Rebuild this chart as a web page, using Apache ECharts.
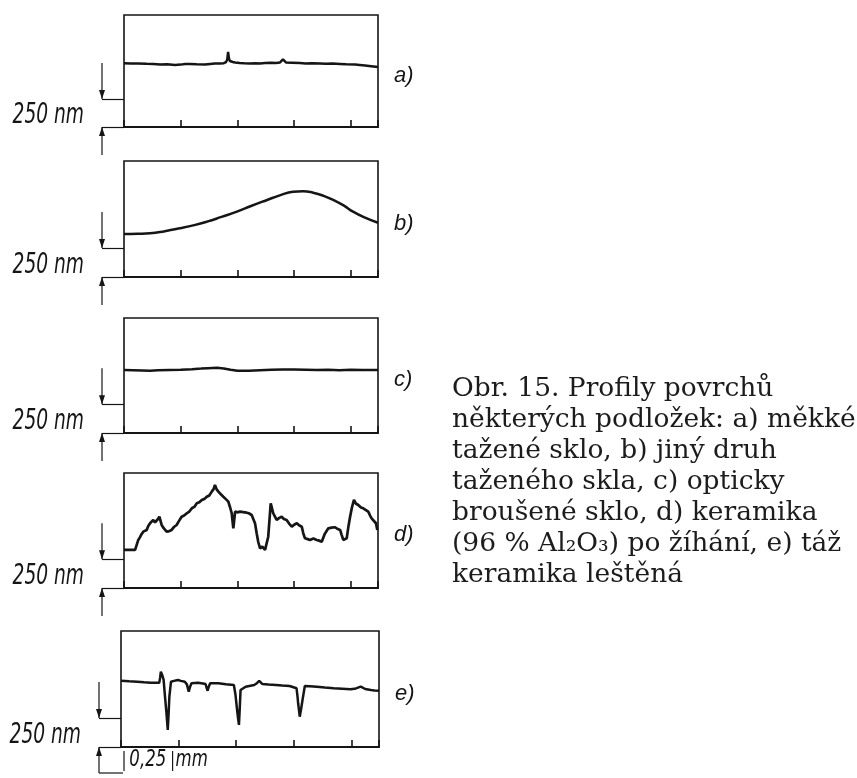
<!DOCTYPE html>
<html>
<head>
<meta charset="utf-8">
<script src="https://cdn.jsdelivr.net/npm/echarts@6/dist/echarts.min.js"></script>
<style>
html,body{margin:0;padding:0;background:#fff;}
#chart{width:857px;height:778px;}
</style>
</head>
<body>
<div id="chart"></div>
<script>
// ---- data (x in mm, y in nm) ----
const panelLabels = ['a)', 'b)', 'c)', 'd)', 'e)'];
const scaleLabel = '250 nm';
const scaleValue = 250;
const xTickStep = 0.25;
const xLenLabel = '0,25';
const xUnitLabel = 'mm';

const profileA = [[0,569],[0.03,566],[0.06,568],[0.1,565],[0.13,563],[0.16,558],[0.19,560],[0.225,554],[0.25,557],[0.27,562],[0.291,563],[0.32,560],[0.357,558],[0.38,563],[0.40,566],[0.423,567],[0.44,570],[0.450,580],[0.455,600],[0.459,670],[0.463,610],[0.467,589],[0.48,580],[0.490,576],[0.51,572],[0.53,569],[0.556,567],[0.58,570],[0.6,568],[0.622,571],[0.65,574],[0.67,572],[0.688,576],[0.695,590],[0.701,603],[0.707,588],[0.714,576],[0.74,574],[0.776,571],[0.8,568],[0.83,570],[0.864,567],[0.89,564],[0.92,566],[0.952,563],[0.98,560],[1.019,558],[1.04,554],[1.063,549],[1.09,543],[1.12,536]];

const profileB = [[0,371],[0.06,373],[0.115,377],[0.18,395],[0.247,420],[0.31,447],[0.366,477],[0.43,518],[0.498,563],[0.56,612],[0.631,664],[0.69,706],[0.745,735],[0.79,740],[0.834,727],[0.88,700],[0.922,664],[0.97,615],[1.01,563],[1.06,514],[1.12,468]];

const profileC = [[0,548],[0.04,546],[0.08,544],[0.115,542],[0.15,545],[0.2,548],[0.25,550],[0.3,555],[0.34,560],[0.37,564],[0.41,568],[0.44,561],[0.47,550],[0.5,541],[0.55,542],[0.6,546],[0.65,549],[0.7,552],[0.75,553],[0.8,550],[0.85,547],[0.9,551],[0.95,546],[1.0,549],[1.05,547],[1.12,548]];

const profileD = [[0,331],[0.049,331],[0.063,418],[0.07,440],[0.078,470],[0.085,490],[0.1,505],[0.107,540],[0.115,563],[0.122,575],[0.129,592],[0.137,570],[0.144,577],[0.15,600],[0.156,620],[0.166,548],[0.175,520],[0.188,490],[0.2,495],[0.21,505],[0.22,530],[0.232,548],[0.24,575],[0.254,620],[0.265,630],[0.277,650],[0.288,665],[0.299,693],[0.31,705],[0.321,737],[0.332,745],[0.343,766],[0.355,775],[0.365,794],[0.376,805],[0.387,838],[0.395,860],[0.401,896],[0.408,860],[0.416,838],[0.427,815],[0.438,794],[0.448,775],[0.46,751],[0.468,700],[0.475,650],[0.482,519],[0.49,664],[0.5,658],[0.512,664],[0.525,660],[0.541,655],[0.55,650],[0.563,635],[0.57,620],[0.578,560],[0.585,476],[0.592,400],[0.6,345],[0.61,360],[0.622,331],[0.636,446],[0.647,737],[0.658,650],[0.665,640],[0.673,592],[0.685,610],[0.695,620],[0.705,600],[0.717,592],[0.728,560],[0.74,533],[0.75,550],[0.762,563],[0.772,545],[0.784,533],[0.79,480],[0.798,432],[0.81,425],[0.82,418],[0.835,430],[0.85,418],[0.86,412],[0.872,403],[0.885,470],[0.901,519],[0.915,525],[0.931,528],[0.94,515],[0.953,505],[0.96,460],[0.967,418],[0.975,425],[0.982,432],[0.99,540],[0.997,620],[1.005,700],[1.014,766],[1.022,735],[1.033,722],[1.045,700],[1.055,693],[1.065,680],[1.077,664],[1.085,630],[1.092,606],[1.1,590],[1.111,563],[1.117,505]];

const profileE = [[0,571],[0.035,566],[0.071,563],[0.1,558],[0.129,554],[0.166,554],[0.17,600],[0.173,649],[0.179,620],[0.185,578],[0.191,434],[0.197,300],[0.203,147],[0.207,300],[0.21,434],[0.217,563],[0.23,570],[0.247,578],[0.26,570],[0.277,563],[0.286,540],[0.294,477],[0.3,520],[0.306,549],[0.335,554],[0.355,548],[0.367,543],[0.371,515],[0.376,485],[0.381,520],[0.387,549],[0.423,549],[0.455,540],[0.49,534],[0.497,450],[0.504,319],[0.508,250],[0.512,190],[0.516,350],[0.519,491],[0.541,520],[0.578,534],[0.59,550],[0.6,571],[0.607,555],[0.614,543],[0.64,538],[0.673,534],[0.7,530],[0.732,526],[0.762,506],[0.766,440],[0.769,377],[0.776,261],[0.782,330],[0.788,405],[0.798,526],[0.82,524],[0.85,520],[0.885,512],[0.923,506],[0.96,502],[0.997,497],[1.02,505],[1.041,520],[1.06,500],[1.085,491],[1.1,488],[1.12,485]];

const profiles = [profileA, profileB, profileC, profileD, profileE];

const captionLines = [
  'Obr. 15. Profily povrchů',
  'některých podložek: a) měkké',
  'tažené sklo, b) jiný druh',
  'taženého skla, c) opticky',
  'broušené sklo, d) keramika',
  '(96 % Al₂O₃) po žíhání, e) táž',
  'keramika leštěná'
];

// ---- layout ----
const gridBoxes = [
  {left:124, top:15, width:254, height:112},
  {left:124, top:161, width:254, height:116},
  {left:124, top:318, width:254, height:115},
  {left:124, top:473, width:254, height:115},
  {left:121, top:631, width:258, height:116}
];
const INK = '#151515';
const condFont = '"DejaVu Sans Condensed","Liberation Sans Narrow","DejaVu Sans",sans-serif';

const chart = echarts.init(document.getElementById('chart'));

const grids = gridBoxes.map(g => Object.assign({show:true, containLabel:false, outerBoundsMode:'none',
  borderColor:INK, borderWidth:1.6, backgroundColor:'transparent'}, g));
const xAxes = gridBoxes.map((g,i) => ({
  type:'value', gridIndex:i, min:0, max:1.12, interval:xTickStep,
  axisLine:{show:true, lineStyle:{color:INK, width:2.2}},
  axisTick:{show:true, inside:true, length:7, lineStyle:{color:INK, width:1.6}},
  axisLabel:{show:false}, splitLine:{show:false}
}));
const yAxes = gridBoxes.map((g,i) => ({
  type:'value', gridIndex:i, min:0, max:1000,
  axisLine:{show:false},
  axisTick:{show:true, customValues:[0, scaleValue], length:22, lineStyle:{color:INK, width:1.2}},
  axisLabel:{show:false},
  splitLine:{show:false}
}));
const series = profiles.map((p,i) => ({
  type:'line', xAxisIndex:i, yAxisIndex:i, data:p, showSymbol:false, symbol:'none',
  smooth: i === 1, animation:false,
  lineStyle:{color:INK, width: i === 3 ? 2.7 : 2.5}
}));

chart.setOption({
  backgroundColor:'#ffffff',
  animation:false,
  title:{
    text: captionLines.join('\n'), left:447, top:369,
    textStyle:{fontFamily:'"DejaVu Serif",serif', fontSize:26.5, fontWeight:'normal', lineHeight:31, color:'#1c1c1c'}
  },
  grid: grids, xAxis: xAxes, yAxis: yAxes, series: series
});

// ---- dimension marks and panel labels, placed through the axes ----
const gfx = [];
const labelLevel = 460;
profiles.forEach((p,i) => {
  const p250 = chart.convertToPixel({gridIndex:i}, [0, scaleValue]);
  const p0 = chart.convertToPixel({gridIndex:i}, [0, 0]);
  const pR = chart.convertToPixel({gridIndex:i}, [1.12, labelLevel]);
  const xL = p0[0] - 22;
  // upper arrow (pointing down to 250 nm)
  gfx.push({type:'line', shape:{x1:xL, y1:p250[1]-36, x2:xL, y2:p250[1]}, style:{stroke:INK, lineWidth:1.2}});
  gfx.push({type:'polygon', shape:{points:[[xL-3,p250[1]-9],[xL+3,p250[1]-9],[xL,p250[1]]]}, style:{fill:INK}});
  // lower arrow (pointing up to 0)
  const low = i === 4 ? 26 : 28;
  gfx.push({type:'line', shape:{x1:xL, y1:p0[1], x2:xL, y2:p0[1]+low}, style:{stroke:INK, lineWidth:1.2}});
  gfx.push({type:'polygon', shape:{points:[[xL-3,p0[1]+9],[xL+3,p0[1]+9],[xL,p0[1]]]}, style:{fill:INK}});
  // "250 nm" scale label
  gfx.push({type:'text', x:p0[0]-40, y:(p0[1]+p250[1])/2 + 3, scaleX:0.74,
    style:{text:scaleLabel, font:'italic 28px '+condFont, fill:INK, align:'right', verticalAlign:'middle'}});
  if (i === 4) {
    gfx.push({type:'line', shape:{x1:xL, y1:p0[1]+low, x2:p0[0]+2, y2:p0[1]+low}, style:{stroke:INK, lineWidth:1.2}});
    const pa = chart.convertToPixel({gridIndex:i}, [0, 0]);
    const pb = chart.convertToPixel({gridIndex:i}, [xTickStep, 0]);
    const pm = chart.convertToPixel({gridIndex:i}, [xTickStep/2, 0]);
    gfx.push({type:'line', shape:{x1:pa[0]+3, y1:pa[1]+4, x2:pa[0]+3, y2:pa[1]+24}, style:{stroke:INK, lineWidth:1.2}});
    gfx.push({type:'line', shape:{x1:pb[0]-6, y1:pb[1]+4, x2:pb[0]-6, y2:pb[1]+24}, style:{stroke:INK, lineWidth:1.2}});
    gfx.push({type:'text', x:pm[0]-2, y:pm[1]+13, scaleX:0.8, style:{text:xLenLabel, font:'italic 23px '+condFont, fill:INK, align:'center', verticalAlign:'middle'}});
    gfx.push({type:'text', x:pb[0]-3, y:pb[1]+13, scaleX:0.8, style:{text:xUnitLabel, font:'italic 23px '+condFont, fill:INK, align:'left', verticalAlign:'middle'}});
  }
  gfx.push({type:'text', x:pR[0]+16, y:pR[1], style:{text:panelLabels[i], font:'italic 22px "Liberation Sans",sans-serif', fill:INK, align:'left', verticalAlign:'middle'}});
});
chart.setOption({graphic: gfx});
</script>
</body>
</html>
